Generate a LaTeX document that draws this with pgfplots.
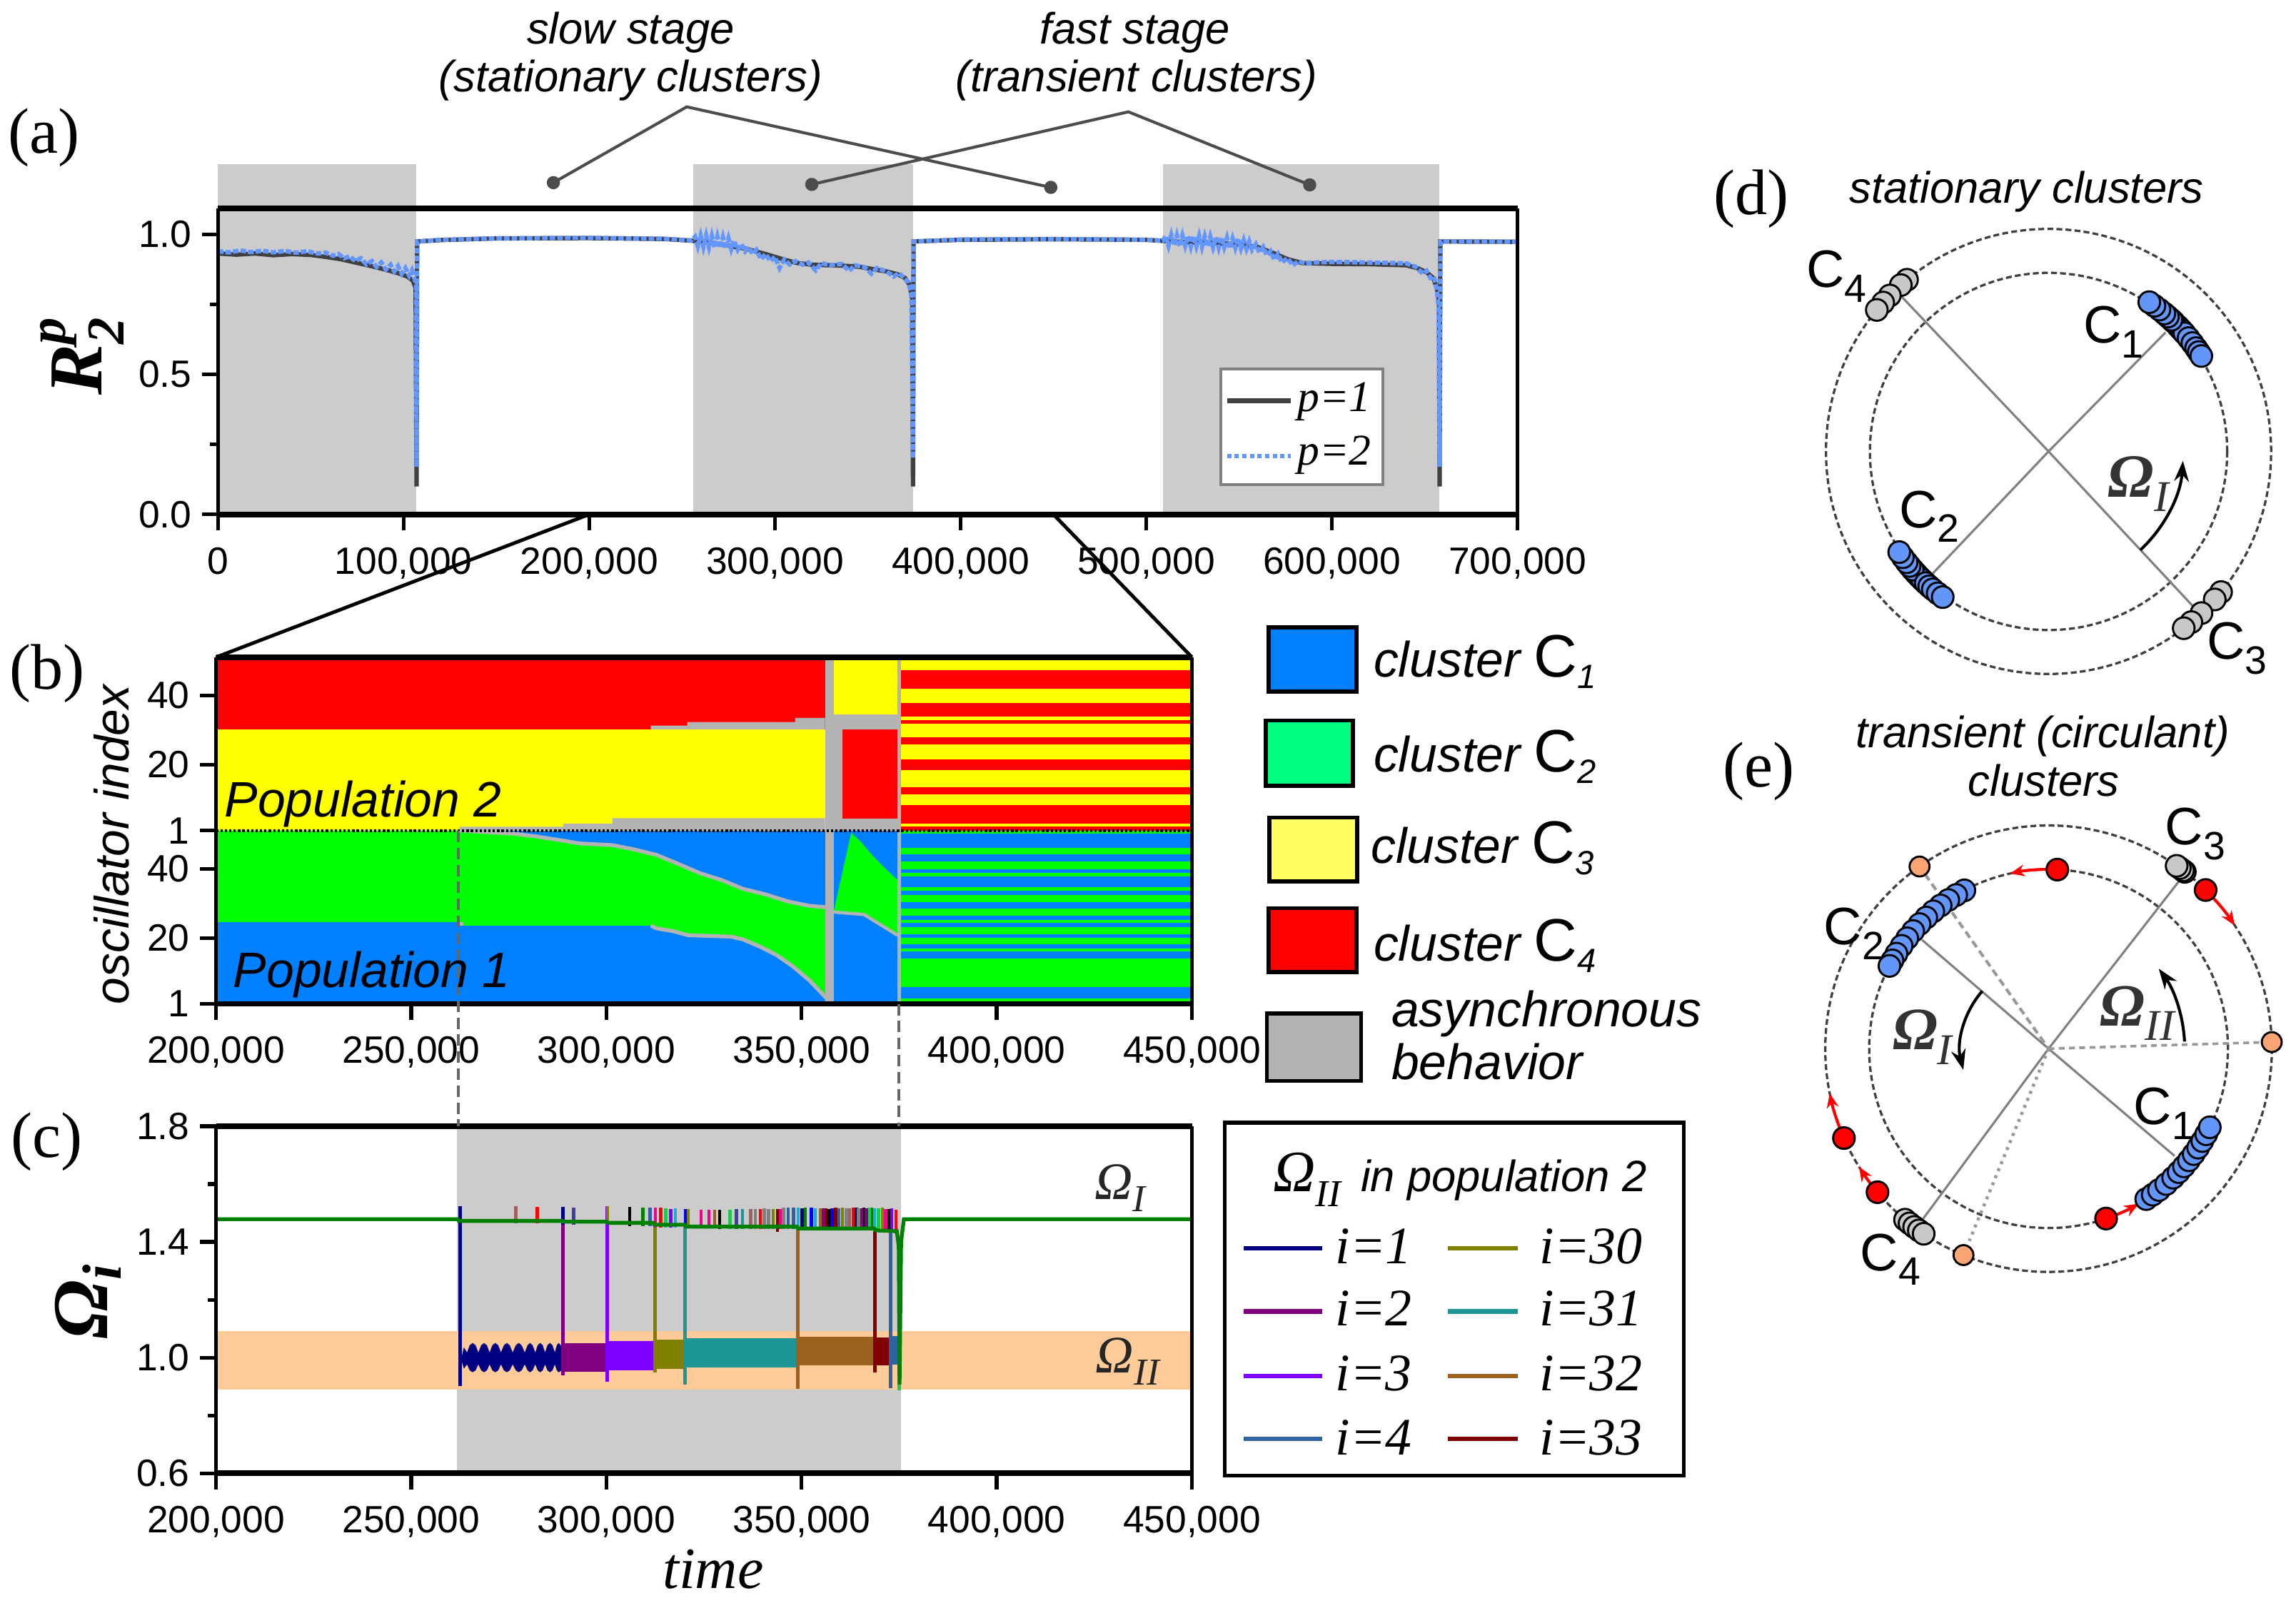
\documentclass[border=0pt]{standalone}
\usepackage{amsmath}
\usepackage{pgfplots}
\pgfplotsset{compat=1.18}
\usepgfplotslibrary{polar}
\usepackage{fontspec}
\setmainfont{Liberation Sans}
\newfontfamily\tms{Liberation Serif}
\usetikzlibrary{arrows.meta}

\definecolor{shade}{RGB}{204,204,204}
\definecolor{async}{RGB}{179,179,179}
\definecolor{cone}{RGB}{0,128,255}
\definecolor{ctwo}{RGB}{0,255,0}
\definecolor{cthree}{RGB}{255,255,0}
\definecolor{cfour}{RGB}{255,0,0}
\definecolor{pone}{RGB}{64,64,64}
\definecolor{ptwo}{RGB}{100,150,255}
\definecolor{band}{RGB}{255,204,153}
\definecolor{omI}{RGB}{0,128,0}
\definecolor{iA}{RGB}{0,0,128}
\definecolor{iB}{RGB}{128,0,128}
\definecolor{iC}{RGB}{128,0,255}
\definecolor{iD}{RGB}{46,98,162}
\definecolor{iE}{RGB}{128,128,0}
\definecolor{iF}{RGB}{30,150,150}
\definecolor{iG}{RGB}{154,98,30}
\definecolor{iH}{RGB}{128,0,0}
\definecolor{sRosy}{RGB}{160,96,96}
\definecolor{sSlate}{RGB}{64,64,160}
\definecolor{sGreen}{RGB}{32,200,80}
\definecolor{sSky}{RGB}{32,170,210}
\definecolor{sGray}{RGB}{128,128,128}
\definecolor{dotblue}{RGB}{100,150,250}
\definecolor{dotgray}{RGB}{200,200,200}
\definecolor{dotorange}{RGB}{250,165,115}

\newcommand\fs[1]{\fontsize{#1}{#1}\selectfont}
\newcommand\Clab[1]{{\fs{18}C}\raisebox{-5pt}{\fs{13.5}#1}}
\newcommand\Cleg[1]{{\fs{17}\itshape cluster }{\fs{20.5}C}\raisebox{-4pt}{\fs{11.5}\itshape #1}}

\tikzset{circ/.style={draw=black!75, line width=0.8pt, dash pattern=on 2pt off 1.1pt}}
\pgfplotsset{
  panel/.style={
    scale only axis, axis on top, clip=false,
    separate axis lines,
    every outer x axis line/.append style={line width=1.9pt},
    every outer y axis line/.append style={line width=1.3pt},
    tick pos=left, tick align=outside,
    major tick length=5.5pt, minor tick length=2.8pt,
    tick style={black, line width=1.3pt},
    tick label style={font={\fs{13}}},
    xticklabel style={yshift=-2.2pt},
    /pgf/number format/assume math mode=true,
    scaled ticks=false,
  },
  cell/.style={draw=none, forget plot},
  spike/.style={line width=1.1pt, forget plot},
  trans/.style={line width=1.2pt, forget plot},
  radial/.style={color=sGray, line width=0.75pt, forget plot},
  dot/.style={only marks, mark=*, mark size=3.7pt, forget plot,
    mark options={draw=black, line width=0.7pt, fill=#1}},
}
\newcommand\rect[5]{\addplot[cell, fill=#1] coordinates {(#2,#4) (#3,#4) (#3,#5) (#2,#5)} -- cycle;}

\begin{document}
\begin{tikzpicture}
\useasboundingbox (0,0) rectangle (784pt,-547.5pt);

% ---------------- (a) ----------------
\begin{axis}[panel, at={(74.4pt,-175.7pt)}, anchor=south west,
  width=443.8pt, height=104.5pt,
  xmin=0, xmax=700000, ymin=0, ymax=1.093,
  xtick={0,100000,200000,300000,400000,500000,600000,700000},
  xticklabels={0,{100,000},{200,000},{300,000},{400,000},{500,000},{600,000},{700,000}},
  ytick={0,0.5,1}, yticklabels={0.0,0.5,1.0}, minor ytick={0.25,0.75},
  ylabel={\tms\bfseries\itshape\fs{26}R$_{\text{2}}^{\text{p}}$},
  ylabel style={at={(axis description cs:-0.1046,0.5187)}, anchor=center},
]
\rect{shade}{0}{107000}{0}{1.251}
\rect{shade}{256000}{374500}{0}{1.251}
\rect{shade}{509000}{658000}{0}{1.251}
\addplot[pone, line width=1.5pt] coordinates {
(0,0.932) (10000,0.928) (20000,0.932) (30000,0.926) (40000,0.93) (50000,0.927)
(58000,0.92) (66000,0.912) (74000,0.9) (82000,0.888) (90000,0.875) (97000,0.862)
(102000,0.85) (105000,0.835) (106500,0.81) (107000,0.10) (107300,0.975)
(120000,0.98) (150000,0.986) (200000,0.987) (240000,0.984) (255000,0.978)
(265000,0.97) (275000,0.96) (285000,0.948) (295000,0.93) (305000,0.91)
(312000,0.898) (320000,0.892) (335000,0.889) (345000,0.885) (352000,0.877)
(360000,0.868) (366000,0.858) (370000,0.845) (372500,0.82) (374000,0.77)
(374400,0.10) (374700,0.975) (400000,0.981) (450000,0.983) (500000,0.981)
(509000,0.977) (520000,0.973) (535000,0.97) (550000,0.965) (560000,0.955)
(568000,0.935) (576000,0.912) (584000,0.898) (600000,0.895) (620000,0.894)
(640000,0.89) (646000,0.88) (651000,0.865) (654500,0.845) (656500,0.81)
(657700,0.76) (658000,0.10) (658400,0.975) (700000,0.974)};
\addplot[ptwo, line width=1.5pt, dash pattern=on 1.9pt off 0.7pt] coordinates {
(0,0.94) (6000,0.936) (12000,0.943) (18000,0.937) (24000,0.942) (30000,0.936)
(36000,0.941) (42000,0.935) (48000,0.94) (54000,0.932) (58000,0.935) (62000,0.924)
(65000,0.93) (68000,0.915) (71000,0.922) (74000,0.905) (77000,0.915) (80000,0.893)
(83000,0.905) (85500,0.884) (88000,0.9) (90500,0.875) (93000,0.892) (95000,0.868)
(97000,0.887) (99000,0.86) (101000,0.88) (103000,0.853) (104500,0.872) (106000,0.84)
(106800,0.82) (107000,0.17) (107300,0.975) (120000,0.981) (150000,0.986)
(200000,0.988) (240000,0.985) (255000,0.979) (257000,0.992) (258500,0.958)
(260000,0.996) (261500,0.955) (263000,0.996) (264500,0.955) (266000,0.995)
(267500,0.953) (269000,0.993) (270500,0.952) (272000,0.99) (273500,0.95)
(275000,0.986) (276500,0.948) (278000,0.978) (280000,0.945) (282000,0.965)
(284000,0.94) (286000,0.955) (288000,0.93) (290000,0.945) (292500,0.912)
(295000,0.93) (297500,0.905) (300000,0.92) (302500,0.88) (305000,0.91)
(308000,0.893) (311000,0.905) (315000,0.892) (318000,0.9) (322000,0.872)
(325000,0.898) (330000,0.89) (336000,0.895) (340000,0.87) (343000,0.89)
(348000,0.884) (352000,0.86) (355000,0.88) (360000,0.868) (364000,0.85)
(367000,0.862) (370000,0.84) (372000,0.83) (373500,0.78) (374400,0.20)
(374700,0.975) (400000,0.982) (450000,0.984) (500000,0.981) (509000,0.978)
(510500,0.995) (512000,0.96) (513500,0.998) (515000,0.962) (516500,0.997)
(518000,0.958) (519500,0.996) (521000,0.96) (522500,0.995) (524000,0.957)
(525500,0.994) (527000,0.958) (528500,0.995) (530000,0.955) (531500,0.993)
(533000,0.957) (534500,0.992) (536000,0.955) (537500,0.99) (539000,0.953)
(540500,0.99) (542000,0.955) (543500,0.988) (545000,0.95) (546500,0.985)
(548000,0.952) (549500,0.985) (551000,0.95) (552500,0.98) (554000,0.948)
(555500,0.975) (557000,0.945) (559000,0.965) (561000,0.935) (563000,0.955)
(565000,0.925) (567000,0.94) (569000,0.91) (571000,0.93) (573000,0.9)
(576000,0.915) (579000,0.89) (582000,0.905) (586000,0.895) (590000,0.9)
(600000,0.902) (620000,0.9) (640000,0.897) (645000,0.885) (649000,0.86)
(651000,0.87) (653000,0.845) (655000,0.85) (656500,0.8) (657500,0.74)
(658000,0.17) (658500,0.975) (680000,0.975) (700000,0.974)};
\end{axis}

% ---------------- (b) ----------------
\begin{axis}[panel, at={(73.75pt,-342.9pt)}, anchor=south west,
  width=333.25pt, height=118.4pt,
  xmin=200000, xmax=450000, ymin=0, ymax=100,
  xtick={200000,250000,300000,350000,400000,450000},
  xticklabels={{200,000},{250,000},{300,000},{350,000},{400,000},{450,000}},
  ytick={0,19,39,50,69,89}, yticklabels={1,20,40,1,20,40},
  ylabel={\itshape\fs{16.5}oscillator index},
  ylabel style={at={(axis description cs:-0.1073,0.4595)}, anchor=center},
]
% population 2, before the fast stage
\rect{cfour}{200000}{356000}{79.2}{100}
\rect{cthree}{200000}{356000}{50}{79.2}
\addplot[cell, fill=async] coordinates {(262400,50) (262400,51.1) (289000,51.1) (289000,52.0)
  (301600,52.0) (301600,53.6) (356000,53.6) (356000,50)} -- cycle;
\addplot[cell, fill=async] coordinates {(311400,79.2) (311400,80.3) (320700,80.3) (320700,81.3)
  (348400,81.3) (348400,82.5) (356000,82.5) (356000,79.2)} -- cycle;
% population 1, before the fast stage
\rect{cone}{200000}{356000}{0}{50}
\addplot[cell, fill=ctwo] coordinates {(200000,23.6) (200000,50) (262400,50) (276400,49.1)
  (282000,48.3) (289000,47.1) (293000,46.3) (301600,45.8) (307000,44.6) (312800,43.0)
  (318000,40.6) (324000,37.7) (329600,35.7) (335000,33.2) (340800,31.6) (346400,29.6)
  (352000,28.3) (356200,27.9) (356800,1.1) (354800,3.5) (352000,6.8) (347800,10.8)
  (343600,14.1) (339400,16.5) (335000,18.6) (332000,19.4) (321000,19.8) (317000,21.0)
  (312800,21.8) (311400,22.6) (262400,22.6) (262400,23.6)} -- cycle;
\addplot[async, line width=1.3pt, forget plot] coordinates {(262400,50) (276400,49.1)
  (282000,48.3) (289000,47.1) (293000,46.3) (301600,45.8) (307000,44.6) (312800,43.0)
  (318000,40.6) (324000,37.7) (329600,35.7) (335000,33.2) (340800,31.6) (346400,29.6)
  (352000,28.3) (356200,27.9)};
\addplot[async, line width=1.3pt, forget plot] coordinates {(311400,22.6) (312800,21.8)
  (317000,21.0) (321000,19.8) (332000,19.4) (335000,18.6) (339400,16.5) (343600,14.1)
  (347800,10.8) (352000,6.8) (354800,3.5) (356800,1.1)};
\rect{async}{262400}{263400}{22.6}{23.6}
% short column during the fast stage
\rect{cone}{358200}{374600}{0}{50}
\addplot[cell, fill=ctwo] coordinates {(358200,26.5) (362700,49.3) (365000,47) (368000,43)
  (371000,39.5) (374600,35.7) (374600,19.8) (366000,25.8)} -- cycle;
\addplot[async, line width=1.1pt, forget plot] coordinates {(374600,19.8) (366000,25.8) (358200,26.5)};
\rect{cthree}{358200}{374600}{83.5}{100}
\rect{async}{358200}{374600}{79.2}{83.5}
\rect{cfour}{360400}{374600}{53.5}{79.2}
\rect{async}{358200}{360400}{50}{79.2}
\rect{async}{358200}{374600}{50}{53.5}
\rect{async}{356000}{358200}{0}{100}
\rect{async}{374600}{375500}{0}{100}
% after the fast stage: stripes
\rect{cthree}{375500}{450000}{50}{100}
\rect{cfour}{375500}{450000}{91.0}{96.2}
\rect{cfour}{375500}{450000}{82.9}{86.9}
\rect{cfour}{375500}{450000}{80.8}{81.9}
\rect{cfour}{375500}{450000}{74.8}{76.9}
\rect{cfour}{375500}{450000}{67.5}{70.6}
\rect{cfour}{375500}{450000}{60.4}{62.5}
\rect{cfour}{375500}{450000}{52.1}{57.3}
\rect{cfour}{375500}{450000}{50}{51.25}
\rect{ctwo}{375500}{450000}{0}{50}
\rect{cone}{375500}{450000}{45.0}{49.2}
\rect{cone}{375500}{450000}{41.0}{43.1}
\rect{cone}{375500}{450000}{37.8}{38.8}
\rect{cone}{375500}{450000}{33.6}{36.7}
\rect{cone}{375500}{450000}{31.5}{32.7}
\rect{cone}{375500}{450000}{27.5}{29.4}
\rect{cone}{375500}{450000}{24.3}{25.4}
\rect{cone}{375500}{450000}{22.2}{23.3}
\rect{cone}{375500}{450000}{19.0}{20.1}
\rect{cone}{375500}{450000}{15.9}{17.2}
\rect{cone}{375500}{450000}{13.0}{15.1}
\rect{cone}{375500}{450000}{1.6}{4.8}
\addplot[black, line width=1pt, dash pattern=on 0.8pt off 0.7pt, forget plot]
  coordinates {(200000,50) (450000,50)};
\end{axis}

% ---------------- (c) ----------------
\begin{axis}[panel, at={(73.75pt,-503.25pt)}, anchor=south west,
  width=333.25pt, height=118.55pt,
  xmin=200000, xmax=450000, ymin=0.6, ymax=1.8,
  xtick={200000,250000,300000,350000,400000,450000},
  xticklabels={{200,000},{250,000},{300,000},{350,000},{400,000},{450,000}},
  ytick={0.6,1.0,1.4,1.8}, yticklabels={0.6,1.0,1.4,1.8}, minor ytick={0.8,1.2,1.6},
  xlabel={\tms\itshape\fs{20}time},
  xlabel style={at={(axis description cs:0.5094,-0.2763)}, anchor=center},
  ylabel={\tms\bfseries\itshape\fs{27}Ω$_{\text{i}}$},
  ylabel style={at={(axis description cs:-0.1313,0.4956)}, anchor=center},
  unbounded coords=jump,
]
\rect{shade}{261700}{375400}{0.6}{1.8}
\rect{band}{200000}{450000}{0.89}{1.092}
\addplot[cell, fill=iA] coordinates {(262900,1.0) (263500,1.036) (264300,1.018) (265000,1.043)
  (265750,1.0508) (266500,1.043) (267200,1.018) (267950,1.043) (268650,1.0508) (269400,1.043)
  (270100,1.018) (270800,1.043) (271550,1.0508) (272300,1.043) (273000,1.018) (273750,1.043)
  (274500,1.0508) (275250,1.043) (276000,1.018) (276800,1.043) (277550,1.0508) (278300,1.043)
  (279100,1.018) (279800,1.043) (280450,1.0508) (281100,1.043) (281800,1.018) (282400,1.043)
  (283050,1.0508) (283700,1.043) (284300,1.018) (284900,1.043) (285550,1.0508) (286200,1.043)
  (286800,1.018) (287300,1.043) (287750,1.0508) (288200,1.045) (288700,1.035)
  (288700,0.955) (288200,0.953) (287750,0.9496) (287300,0.956) (286800,0.9768) (286200,0.956)
  (285550,0.9496) (284900,0.956) (284300,0.9768) (283700,0.956) (283050,0.9496) (282400,0.956)
  (281800,0.9768) (281100,0.956) (280450,0.9496) (279800,0.956) (279100,0.9768) (278300,0.956)
  (277550,0.9496) (276800,0.956) (276000,0.9768) (275250,0.956) (274500,0.9496) (273750,0.956)
  (273000,0.9768) (272300,0.956) (271550,0.9496) (270800,0.956) (270100,0.9768) (269400,0.956)
  (268650,0.9496) (267950,0.956) (267200,0.9768) (266500,0.956) (265750,0.9496) (265000,0.956)
  (264300,0.9768) (263500,0.962) (262900,0.99)} -- cycle;
\rect{iB}{288700}{300000}{0.952}{1.049}
\rect{iC}{300000}{312300}{0.956}{1.0574}
\rect{iE}{312300}{319800}{0.962}{1.0615}
\rect{iF}{319800}{348800}{0.966}{1.0673}
\rect{iG}{348800}{368700}{0.9727}{1.0722}
\rect{iH}{368700}{372800}{0.9743}{1.069}
\rect{iD}{372800}{374600}{0.9768}{1.0755}
\addplot[iA, trans] coordinates {(262500,1.524) (262500,0.903)};
\addplot[iB, trans] coordinates {(288800,1.47) (288800,0.94)};
\addplot[iC, trans] coordinates {(300200,1.524) (300200,0.917)};
\addplot[iE, trans] coordinates {(312400,1.458) (312400,0.95)};
\addplot[iF, trans] coordinates {(320100,1.45) (320100,0.908)};
\addplot[iG, trans] coordinates {(349000,1.442) (349000,0.892)};
\addplot[iH, trans] coordinates {(368800,1.437) (368800,0.95)};
\addplot[iD, trans] coordinates {(372900,1.433) (372900,0.894)};
\addplot[sGreen, trans] coordinates {(375000,0.973) (375000,0.886)};
% short excursions of single oscillators
\addplot[sRosy, spike] coordinates {(276800,1.465) (276800,1.524) (276900,nan) (337000,1.445) (337000,1.515) (337100,nan) (362300,1.44) (362300,1.516)};
\addplot[red, spike] coordinates {(282300,1.465) (282300,1.522) (282400,nan) (313900,1.45) (313900,1.52) (314000,nan) (339400,1.445) (339400,1.514) (339500,nan) (363200,1.44) (363200,1.518) (363300,nan) (374200,1.43) (374200,1.512)};
\addplot[iA, spike] coordinates {(288900,1.46) (288900,1.522) (289000,nan) (350100,1.44) (350100,1.516) (350200,nan) (364000,1.44) (364000,1.52)};
\addplot[sSlate, spike] coordinates {(291600,1.46) (291600,1.518) (291700,nan) (333300,1.445) (333300,1.514)};
\addplot[iE, spike] coordinates {(300300,1.46) (300300,1.524) (300400,nan) (321000,1.45) (321000,1.515) (321100,nan) (342700,1.445) (342700,1.515) (342800,nan) (360500,1.44) (360500,1.518) (360600,nan) (370700,1.435) (370700,1.518)};
\addplot[black, spike] coordinates {(306000,1.455) (306000,1.522) (306100,nan) (329000,1.445) (329000,1.512) (329100,nan) (357000,1.44) (357000,1.515) (357100,nan) (366000,1.44) (366000,1.518) (366100,nan) (372300,1.435) (372300,1.515)};
\addplot[omI, spike] coordinates {(309400,1.455) (309400,1.518) (309500,nan) (351000,1.44) (351000,1.518) (351100,nan) (367900,1.44) (367900,1.518)};
\addplot[iD, spike] coordinates {(311200,1.455) (311200,1.518) (311300,nan) (346600,1.445) (346600,1.518) (346700,nan) (347900,1.445) (347900,1.518) (348000,nan) (359600,1.44) (359600,1.517)};
\addplot[magenta, spike] coordinates {(312600,1.45) (312600,1.518) (312700,nan) (324300,1.45) (324300,1.512) (324400,nan) (326300,1.45) (326300,1.512) (326400,nan) (344600,1.445) (344600,1.515) (344700,nan) (371500,1.435) (371500,1.515)};
\addplot[sGreen, spike] coordinates {(315200,1.45) (315200,1.517) (315300,nan) (331700,1.445) (331700,1.512) (331800,nan) (367300,1.44) (367300,1.518) (367400,nan) (369700,1.435) (369700,1.516)};
\addplot[iC, spike] coordinates {(316500,1.45) (316500,1.515) (316600,nan) (373100,1.435) (373100,1.517)};
\addplot[sSky, spike] coordinates {(317700,1.45) (317700,1.517) (317800,nan) (349100,1.44) (349100,1.518) (349200,nan) (353500,1.44) (353500,1.517) (353600,nan) (368700,1.44) (368700,1.517)};
\addplot[blue, spike] coordinates {(320200,1.45) (320200,1.515) (320300,nan) (352500,1.44) (352500,1.518) (352600,nan) (357800,1.44) (357800,1.517)};
\addplot[iG, spike] coordinates {(327700,1.45) (327700,1.512) (327800,nan) (354800,1.44) (354800,1.516)};
\addplot[iF, spike] coordinates {(334900,1.445) (334900,1.514)};
\addplot[sGray, spike] coordinates {(338200,1.445) (338200,1.514) (338300,nan) (340400,1.445) (340400,1.517) (340500,nan) (341500,1.445) (341500,1.513) (341600,nan) (345400,1.445) (345400,1.518) (345500,nan) (361500,1.44) (361500,1.517) (361600,nan) (364600,1.44) (364600,1.517)};
\addplot[iH, spike] coordinates {(343800,1.435) (343800,1.515) (343900,nan) (356200,1.44) (356200,1.517) (356300,nan) (358700,1.44) (358700,1.518)};
\addplot[iB, spike] coordinates {(355600,1.44) (355600,1.516) (355700,nan) (365400,1.44) (365400,1.517) (365500,nan) (366600,1.44) (366600,1.517)};
% frequency of the stationary cluster
\addplot[omI, line width=1.3pt, forget plot] coordinates {(200000,1.4786) (261900,1.4786)
  (262200,1.4728) (288700,1.4728) (288900,1.4703) (300000,1.4703) (300300,1.4662)
  (312000,1.4662) (312300,1.4597) (320000,1.4597) (320300,1.4531) (348800,1.4531)
  (349100,1.4465) (368700,1.4465) (369000,1.44) (374400,1.4374) (374900,1.384)
  (375100,0.907) (375500,1.40) (376200,1.4786) (450000,1.4786)};
\end{axis}

% ---------------- (d) ----------------
\begin{axis}[at={(699.5pt,-154.2pt)}, anchor=center, scale only axis,
  width=180pt, height=180pt, xmin=-180, xmax=180, ymin=-180, ymax=180,
  hide axis, clip=false]
\draw[circ] (axis cs:0,0) circle[radius=76pt];
\draw[circ] (axis cs:0,0) circle[radius=61pt];
\addplot[radial, data cs=polar] coordinates {(133.5,147) (0,0) (313,150)};
\addplot[radial, data cs=polar] coordinates {(226.5,115) (0,0) (45.5,114)};
\draw[black, line width=1pt, -{Stealth[length=7pt,width=5pt]}]
  ([shift={(-47:46pt)}]axis cs:0,0) arc[start angle=-47, end angle=-4, radius=46pt];
\addplot[dot=dotgray, data cs=polar] coordinates {(129.5,152) (131.6,152) (135.5,152) (138,152) (140.5,152)};
\addplot[dot=dotgray, data cs=polar] coordinates {(320.8,152) (318.3,152) (313.4,152) (309.9,152) (307.4,152)};
\addplot[dot=dotblue, data cs=polar] coordinates {(44,123) (42.5,123) (46,123) (41,123) (47,123) (39,123)
  (48.5,123) (37,123) (50,123) (35,123) (52,123) (33.5,123) (54,123) (32,123) (56,123)};
\addplot[dot=dotblue, data cs=polar] coordinates {(224,123) (222.5,123) (225.5,123) (221,123) (227,123)
  (219.5,123) (228.5,123) (218,123) (230,123) (216,123) (232,123) (214,123) (234,123)};
\node[inner sep=0] at (axis cs:-144.8,119.5) {\Clab{4}};
\node[inner sep=0] at (axis cs:44.5,81.6) {\Clab{1}};
\node[inner sep=0] at (axis cs:-81.5,-44.4) {\Clab{2}};
\node[inner sep=0] at (axis cs:128.6,-134.5) {\Clab{3}};
\node[inner sep=0, text=black!80] at (axis cs:61.3,-22.2)
  {{\tms\bfseries\itshape\fs{21}Ω}\raisebox{-5pt}{\tms\itshape\fs{15}I}};
\end{axis}

% ---------------- (e) ----------------
\begin{axis}[at={(699.5pt,-358.2pt)}, anchor=center, scale only axis,
  width=180pt, height=180pt, xmin=-180, xmax=180, ymin=-180, ymax=180,
  hide axis, clip=false]
\draw[circ] (axis cs:0,0) circle[radius=76.25pt];
\draw[circ] (axis cs:0,0) circle[radius=61.25pt];
\addplot[radial, data cs=polar] coordinates {(139.3,114) (0,0) (319.6,113)};
\addplot[radial, data cs=polar] coordinates {(52.1,145) (0,0) (233.6,145.5)};
\addplot[radial, color=black!40, line width=1pt, dash pattern=on 2.5pt off 1.5pt, data cs=polar]
  coordinates {(125.3,146) (0,0)};
\addplot[radial, color=black!40, line width=0.9pt, dash pattern=on 2pt off 1.5pt, data cs=polar]
  coordinates {(0,0) (1.7,146)};
\addplot[radial, color=black!40, line width=1.1pt, dash pattern=on 1pt off 1.6pt, data cs=polar]
  coordinates {(0,0) (247.6,142)};
\draw[black, line width=1pt, -{Stealth[length=7pt,width=5pt]}]
  ([shift={(139:30pt)}]axis cs:0,0) arc[start angle=139, end angle=194, radius=30pt];
\draw[black, line width=1pt, -{Stealth[length=7pt,width=5pt]}]
  ([shift={(3:46.5pt)}]axis cs:0,0) arc[start angle=3, end angle=36, radius=46.5pt];
\draw[red, line width=1pt, -{Stealth[length=5pt,width=4pt]}]
  ([shift={(87.2:61.25pt)}]axis cs:0,0) arc[start angle=87.2, end angle=102.4, radius=61.25pt];
\draw[red, line width=1pt, -{Stealth[length=5pt,width=4pt]}]
  ([shift={(288.7:61.25pt)}]axis cs:0,0) arc[start angle=288.7, end angle=300.2, radius=61.25pt];
\draw[red, line width=1pt, -{Stealth[length=5pt,width=4pt]}]
  ([shift={(45.3:76.25pt)}]axis cs:0,0) arc[start angle=45.3, end angle=33.5, radius=76.25pt];
\draw[red, line width=1pt, -{Stealth[length=5pt,width=4pt]}]
  ([shift={(203.6:76.25pt)}]axis cs:0,0) arc[start angle=203.6, end angle=191.5, radius=76.25pt];
\draw[red, line width=1pt, -{Stealth[length=5pt,width=4pt]}]
  ([shift={(220:76.25pt)}]axis cs:0,0) arc[start angle=220, end angle=211.9, radius=76.25pt];
\addplot[dot=dotgray, data cs=polar] coordinates {(52.4,152.5) (53,152.5) (54,152.5) (55,152.5)};
\addplot[dot=dotgray, data cs=polar] coordinates {(230,152.5) (231.5,152.5) (233,152.5) (234.5,152.5) (236,152.5)};
\addplot[dot=dotblue, data cs=polar] coordinates {(118,122.5) (121,122.5) (124,122.5) (127,122.5)
  (130,122.5) (133,122.5) (136,122.5) (139,122.5) (142,122.5) (145,122.5) (148,122.5) (150.5,122.5) (152.5,122.5)};
\addplot[dot=dotblue, data cs=polar] coordinates {(303,122.5) (305.5,122.5) (308,122.5) (311,122.5)
  (314,122.5) (316.5,122.5) (319,122.5) (321.5,122.5) (324,122.5) (326.5,122.5) (329,122.5) (331.5,122.5) (334,122.5)};
\addplot[dot=red, data cs=polar] coordinates {(87.2,122.5) (288.7,122.5) (45.3,152.5) (203.6,152.5) (220,152.5)};
\addplot[dot=dotorange, mark size=3.4pt, data cs=polar] coordinates {(125.3,152.5) (1.7,152.5) (247.6,152.5)};
\node[inner sep=0] at (axis cs:100.2,146.7) {\Clab{3}};
\node[inner sep=0] at (axis cs:-132.8,78.5) {\Clab{2}};
\node[inner sep=0] at (axis cs:78.7,-44.4) {\Clab{1}};
\node[inner sep=0] at (axis cs:-108,-144) {\Clab{4}};
\node[inner sep=0, text=black!80] at (axis cs:-86.2,7.9)
  {{\tms\bfseries\itshape\fs{20.5}Ω}\raisebox{-5pt}{\tms\itshape\fs{15}I}};
\node[inner sep=0, text=black!80] at (axis cs:60.6,24.3)
  {{\tms\bfseries\itshape\fs{20.5}Ω}\raisebox{-5pt}{\tms\itshape\fs{15}II}};
\end{axis}

% ---------------- texts and connectors (1 unit = 1 px of a 1568 x 1095 grid) ----------------
\begin{scope}[x=0.5pt, y=-0.5pt]
\node[font={\tms\fs{22}}] at (30,94) {(a)};
\node[font={\tms\fs{22}}] at (32,460) {(b)};
\node[font={\tms\fs{22}}] at (32,780) {(c)};
\node[font={\tms\fs{22}}] at (1196,136) {(d)};
\node[font={\tms\fs{22}}] at (1201,527) {(e)};

\node[font={\itshape\fs{15}}, anchor=base] at (430.7,30) {slow stage};
\node[font={\itshape\fs{15}}, anchor=base] at (430.7,62.6) {(stationary clusters)};
\node[font={\itshape\fs{15}}, anchor=base] at (775,30) {fast stage};
\node[font={\itshape\fs{15}}, anchor=base] at (776,62.6) {(transient clusters)};
\draw[black!70, line width=1pt, {Circle[length=4.5pt]}-{Circle[length=4.5pt]}]
  (374,127) -- (469,73) -- (722,129);
\draw[black!70, line width=1pt, {Circle[length=4.5pt]}-{Circle[length=4.5pt]}]
  (550,127) -- (770.6,76.4) -- (898.6,128);

\draw[black!50, line width=0.9pt, fill=white] (833.7,252) rectangle (944.3,331);
\draw[pone, line width=1.7pt] (838,274) -- (881.7,274);
\draw[ptwo, line width=1.3pt, dash pattern=on 1.4pt off 1.2pt] (838,311.6) -- (881.7,311.6);
\node[anchor=base west, inner sep=0, font={\tms\itshape\fs{15}}] at (885.7,281.2) {p=1};
\node[anchor=base west, inner sep=0, font={\tms\itshape\fs{15}}] at (885.7,317.7) {p=2};

\draw[black, line width=1.2pt] (402.4,351.4) -- (147.5,449);
\draw[black, line width=1.2pt] (719.4,351.4) -- (814,449);
\draw[black!60, line width=1pt, dash pattern=on 3.9pt off 1.9pt] (312.8,567.5) -- (312.8,769.4);
\draw[black!60, line width=1pt, dash pattern=on 3.9pt off 1.9pt] (614,685.8) -- (614,769.4);

\node[anchor=base west, inner sep=0, font={\itshape\fs{17}}] at (153,557.8) {Population 2};
\node[anchor=base west, inner sep=0, font={\itshape\fs{17}}] at (159,674.5) {Population 1};

\draw[line width=1.4pt, fill=cone] (866.4,428.6) rectangle (926.4,472.3);
\draw[line width=1.4pt, fill={rgb,255:red,0;green,255;blue,128}] (864.6,492.2) rectangle (923.9,536.7);
\draw[line width=1.4pt, fill={rgb,255:red,255;green,255;blue,100}] (866.7,558.5) rectangle (926.7,602);
\draw[line width=1.4pt, fill=cfour] (866.4,620.4) rectangle (926.4,664);
\draw[line width=1.4pt, fill=async] (865.2,692.3) rectangle (929.5,738.4);
\node[anchor=base west, inner sep=0] at (937.7,462.4) {\Cleg{1}};
\node[anchor=base west, inner sep=0] at (937.7,527.1) {\Cleg{2}};
\node[anchor=base west, inner sep=0] at (936,589.6) {\Cleg{3}};
\node[anchor=base west, inner sep=0] at (937.7,656.3) {\Cleg{4}};
\node[anchor=base west, inner sep=0, font={\itshape\fs{17}}] at (949.9,701.5) {asynchronous};
\node[anchor=base west, inner sep=0, font={\itshape\fs{17}}] at (949.9,737.3) {behavior};

\node[inner sep=0, text=black!85] at (765,811.6) {{\tms\itshape\fs{18}Ω}\raisebox{-4pt}{\tms\itshape\fs{13}I}};
\node[inner sep=0, text=black!85] at (770,930) {{\tms\itshape\fs{18}Ω}\raisebox{-4pt}{\tms\itshape\fs{13}II}};

\draw[line width=1.3pt] (836.5,767) rectangle (1150,1008);
\node[anchor=base west, inner sep=0] at (869,814.2) {{\tms\itshape\fs{20}Ω}\raisebox{-5pt}{\tms\itshape\fs{13}II}};
\node[anchor=base west, inner sep=0, font={\itshape\fs{15}}] at (929,814.2) {in population 2};
\draw[iA, line width=1.6pt] (849.5,852.8) -- (902.9,852.8);
\draw[iB, line width=1.6pt] (849.5,896) -- (902.9,896);
\draw[iC, line width=1.6pt] (849.5,940) -- (902.9,940);
\draw[iD, line width=1.6pt] (849.5,983) -- (902.9,983);
\draw[iE, line width=1.6pt] (989,852.8) -- (1036.6,852.8);
\draw[iF, line width=1.6pt] (989,896) -- (1036.6,896);
\draw[iG, line width=1.6pt] (989,940) -- (1036.6,940);
\draw[iH, line width=1.6pt] (989,983) -- (1036.6,983);
\begin{scope}[every node/.style={anchor=base west, inner sep=0, font={\tms\itshape\fs{18}}}]
\node at (911.6,863) {i=1};
\node at (911.6,905.7) {i=2};
\node at (911.6,950) {i=3};
\node at (911.6,993.8) {i=4};
\node at (1051,863) {i=30};
\node at (1051,905.7) {i=31};
\node at (1051,950) {i=32};
\node at (1051,993.8) {i=33};
\end{scope}

\node[font={\itshape\fs{15}}, anchor=base] at (1384,138.7) {stationary clusters};
\node[font={\itshape\fs{15}}, anchor=base] at (1395,510.9) {transient (circulant)};
\node[font={\itshape\fs{15}}, anchor=base] at (1395.7,543.9) {clusters};
\end{scope}
\end{tikzpicture}
\end{document}
